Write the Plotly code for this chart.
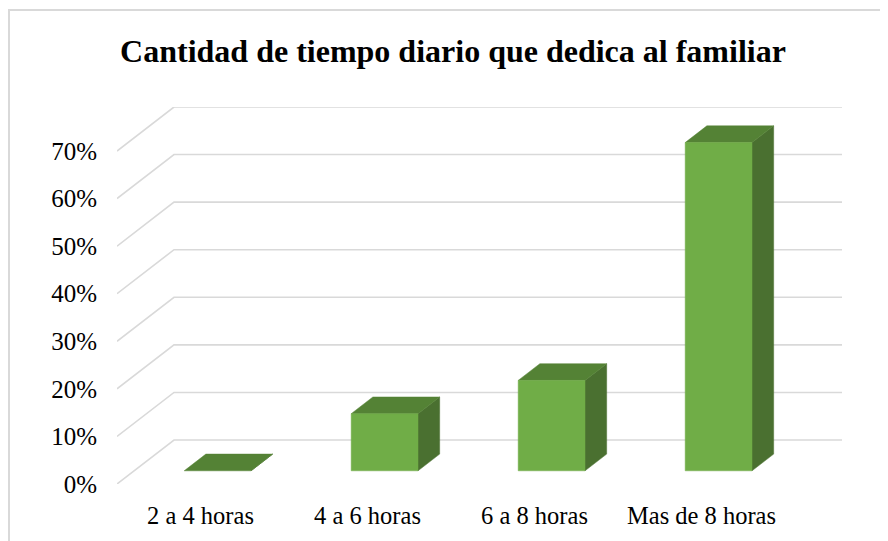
import plotly.graph_objects as go

# ---- data ----
categories = ["2 a 4 horas", "4 a 6 horas", "6 a 8 horas", "Mas de 8 horas"]
values = [0, 12, 19, 69]  # percent
y_ticks = [0, 10, 20, 30, 40, 50, 60, 70]
y_ticktext = [f"{v}%" for v in y_ticks]

# ---- 3D-look geometry (in data units) ----
DX = 0.3413     # depth offset along x (category units)
DY = 9.25       # depth offset along y (percent units)
F0, F1 = 0.30, 0.68   # bar front/back depth fractions
HALF_W = 0.2

FRONT = "#70AD47"
TOP = "#548235"
SIDE = "#4A7030"
GRID = "#D9D9D9"
FONT = "Liberation Serif"

fig = go.Figure()

# back-wall gridlines + diagonal side-wall lines
gx, gy = [], []
x_left = -0.5
x_right = len(categories) - 0.5
for v in y_ticks:
    gx += [x_left, x_left + DX, x_right + DX, None]
    gy += [v, v + DY, v + DY, None]
fig.add_trace(go.Scatter(x=gx, y=gy, mode="lines",
                         line=dict(color=GRID, width=1.6),
                         hoverinfo="skip", showlegend=False))

# bars: side, top, front faces
for i, v in enumerate(values):
    cx = i + F0 * DX
    xl, xr = cx - HALF_W, cx + HALF_W
    yb = F0 * DY
    yt = v + F0 * DY
    ddx = (F1 - F0) * DX
    ddy = (F1 - F0) * DY
    fig.add_trace(go.Scatter(
        x=[xr, xr, xr + ddx, xr + ddx, xr],
        y=[yb, yt, yt + ddy, yb + ddy, yb],
        fill="toself", fillcolor=SIDE, mode="lines",
        line=dict(color=SIDE, width=0.5),
        hoverinfo="skip", showlegend=False))
    fig.add_trace(go.Scatter(
        x=[xl, xr, xr + ddx, xl + ddx, xl],
        y=[yt, yt, yt + ddy, yt + ddy, yt],
        fill="toself", fillcolor=TOP, mode="lines",
        line=dict(color=TOP, width=0.5),
        hoverinfo="skip", showlegend=False))
    if v > 0:
        fig.add_trace(go.Scatter(
            x=[xl, xr, xr, xl, xl],
            y=[yb, yb, yt, yt, yb],
            fill="toself", fillcolor=FRONT, mode="lines",
            line=dict(color=FRONT, width=0.5),
            hoverinfo="skip", showlegend=False))

# page body adds an 8px offset; size the figure to the remaining viewport
W, H = 880, 533
ML, MR, MT, MB = 109, 46, 99, 57
pw, ph = W - ML - MR, H - MT - MB

fig.update_layout(
    width=W, height=H,
    margin=dict(l=ML, r=MR, t=MT, b=MB, pad=0),
    paper_bgcolor="white", plot_bgcolor="white",
    font=dict(family=FONT, color="#000000", size=24),
    title=dict(text="<b>Cantidad de tiempo diario que dedica al familiar</b>",
               font=dict(family=FONT, size=32, color="#000000"),
               x=445 / W, xanchor="center", xref="container",
               y=1 - 43 / H, yanchor="middle", yref="container"),
    xaxis=dict(range=[x_left, x_right + DX], tickvals=list(range(len(categories))),
               ticktext=categories, showgrid=False, zeroline=False, showline=False,
               ticks="", ticklabelstandoff=14, fixedrange=True,
               tickfont=dict(family=FONT, size=24.5, color="#000000")),
    yaxis=dict(range=[0, 70 + DY], tickvals=y_ticks, ticktext=y_ticktext,
               showgrid=False, zeroline=False, showline=False, ticks="",
               ticklabelstandoff=19, fixedrange=True,
               tickfont=dict(family=FONT, size=25, color="#000000")),
    shapes=[dict(type="rect", xref="paper", yref="paper",
                 x0=(1 - ML) / pw, x1=(W + 20 - ML) / pw,
                 y0=-(H + 20 - MT - ph) / ph, y1=1 + (MT - 2) / ph,
                 line=dict(color=GRID, width=2), fillcolor="rgba(0,0,0,0)",
                 layer="below")],
    showlegend=False,
)

fig.write_html("out.html", config={"displayModeBar": False})
